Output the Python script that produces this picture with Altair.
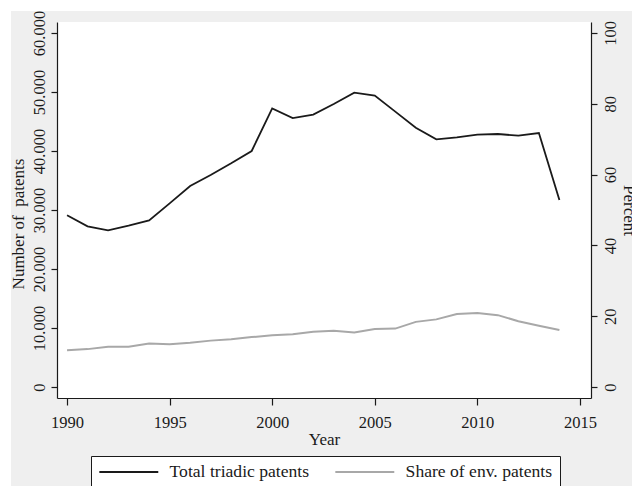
import altair as alt
import pandas as pd

# Triadic patent counts and the environmental share, 1990-2014
years = list(range(1990, 2015))
total_triadic = [29100, 27240, 26550, 27340, 28250, 31130, 34070, 35930, 37910, 40000,
                 47230, 45590, 46160, 47970, 49880, 49380, 46670, 43950, 41980, 42320,
                 42770, 42880, 42600, 43050, 31690]
env_share = [10.4, 10.7, 11.4, 11.4, 12.3, 12.1, 12.5, 13.1, 13.5, 14.1,
             14.6, 14.9, 15.6, 15.9, 15.4, 16.4, 16.5, 18.4, 19.1, 20.6,
             20.9, 20.3, 18.6, 17.3, 16.1]
series_names = ["Total triadic patents", "Share of env. patents"]
year_ticks = [1990, 1995, 2000, 2005, 2010, 2015]
patent_ticks = [0, 10000, 20000, 30000, 40000, 50000, 60000]
percent_ticks = [0, 20, 40, 60, 80, 100]

W, H = 534, 376
FONT = "Liberation Serif"
INK = "#1a1a1a"
PANEL = "#efefef"

total_df = pd.DataFrame({"Year": years, "Value": total_triadic, "Series": series_names[0]})
share_df = pd.DataFrame({"Year": years, "Value": env_share, "Series": series_names[1]})
one = pd.DataFrame({"k": [0]})

axis_style = dict(
    domainColor=INK, domainWidth=1.2, tickColor=INK, tickWidth=1.2,
    labelColor=INK, labelFont=FONT, labelFontSize=16.5,
    titleColor=INK, titleFont=FONT, titleFontSize=17, titleFontWeight="normal",
    grid=False, zindex=1,
)

x_enc = alt.X(
    "Year:Q",
    scale=alt.Scale(domain=[1989.51, 2015.54], nice=False, zero=False),
    axis=alt.Axis(values=year_ticks, format="d", title="Year", tickSize=7,
                  labelAngle=0, labelBaseline="alphabetic", labelPadding=22,
                  titleBaseline="alphabetic", titleY=46, **axis_style),
)

# outer grey panel and white plotting region
panel = alt.Chart(one).mark_rect(color=PANEL).encode(
    x=alt.value(-46), x2=alt.value(W + 41), y=alt.value(-11), y2=alt.value(H + 88)
)
plot_bg = alt.Chart(one).mark_rect(color="white").encode(
    x=alt.value(0), x2=alt.value(W), y=alt.value(0), y2=alt.value(H)
)

# long horizontal key line on a small symbol footprint
key_line = "M-5,0H5"

color_enc = alt.Color(
    "Series:N",
    scale=alt.Scale(domain=series_names, range=[INK, "#a8a8a8"]),
    legend=alt.Legend(
        title=None, orient="none", direction="horizontal",
        legendX=34, legendY=434, padding=7,
        fillColor="white", strokeColor=INK,
        symbolType=key_line, symbolSize=139, symbolStrokeWidth=2,
        symbolOffset=22,
        labelFont=FONT, labelFontSize=17.6, labelColor=INK,
        labelOffset=32, columnPadding=21,
    ),
)

total_line = alt.Chart(total_df).mark_line(strokeWidth=1.8).encode(
    x=x_enc,
    y=alt.Y(
        "Value:Q",
        scale=alt.Scale(domain=[-1864, 61864], nice=False, zero=False),
        axis=alt.Axis(
            orient="left", values=patent_ticks,
            labelExpr="replace(format(datum.value, ','), ',', '.')",
            labelAngle=270, labelAlign="center", labelBaseline="alphabetic",
            labelPadding=7, tickSize=6,
            title="Number of\u00a0 patents", titleAngle=270, titleAlign="center",
            titleBaseline="alphabetic", titleX=-34, titleY=201.5, **axis_style,
        ),
    ),
    color=color_enc,
)

share_line = alt.Chart(share_df).mark_line(strokeWidth=2).encode(
    x=x_enc,
    y=alt.Y(
        "Value:Q",
        scale=alt.Scale(domain=[-3.107, 103.107], nice=False, zero=False),
        axis=alt.Axis(
            orient="right", values=percent_ticks,
            labelAngle=270, labelAlign="center", labelBaseline="alphabetic",
            labelPadding=18, tickSize=6,
            title="Percent", titleAngle=90, titleAlign="center",
            titleBaseline="alphabetic", titleX=32, titleY=188, **axis_style,
        ),
    ),
    color=color_enc,
)

chart = (
    alt.layer(panel, plot_bg, total_line, share_line)
    .resolve_scale(y="independent")
    .properties(
        width=W, height=H,
        autosize=alt.AutoSizeParams(type="none"),
        padding={"left": 57, "top": 22, "right": 41, "bottom": 88},
        background="white",
    )
    .configure_view(stroke=None)
)

chart.save("out.html", embed_options={"renderer": "svg", "actions": False})
